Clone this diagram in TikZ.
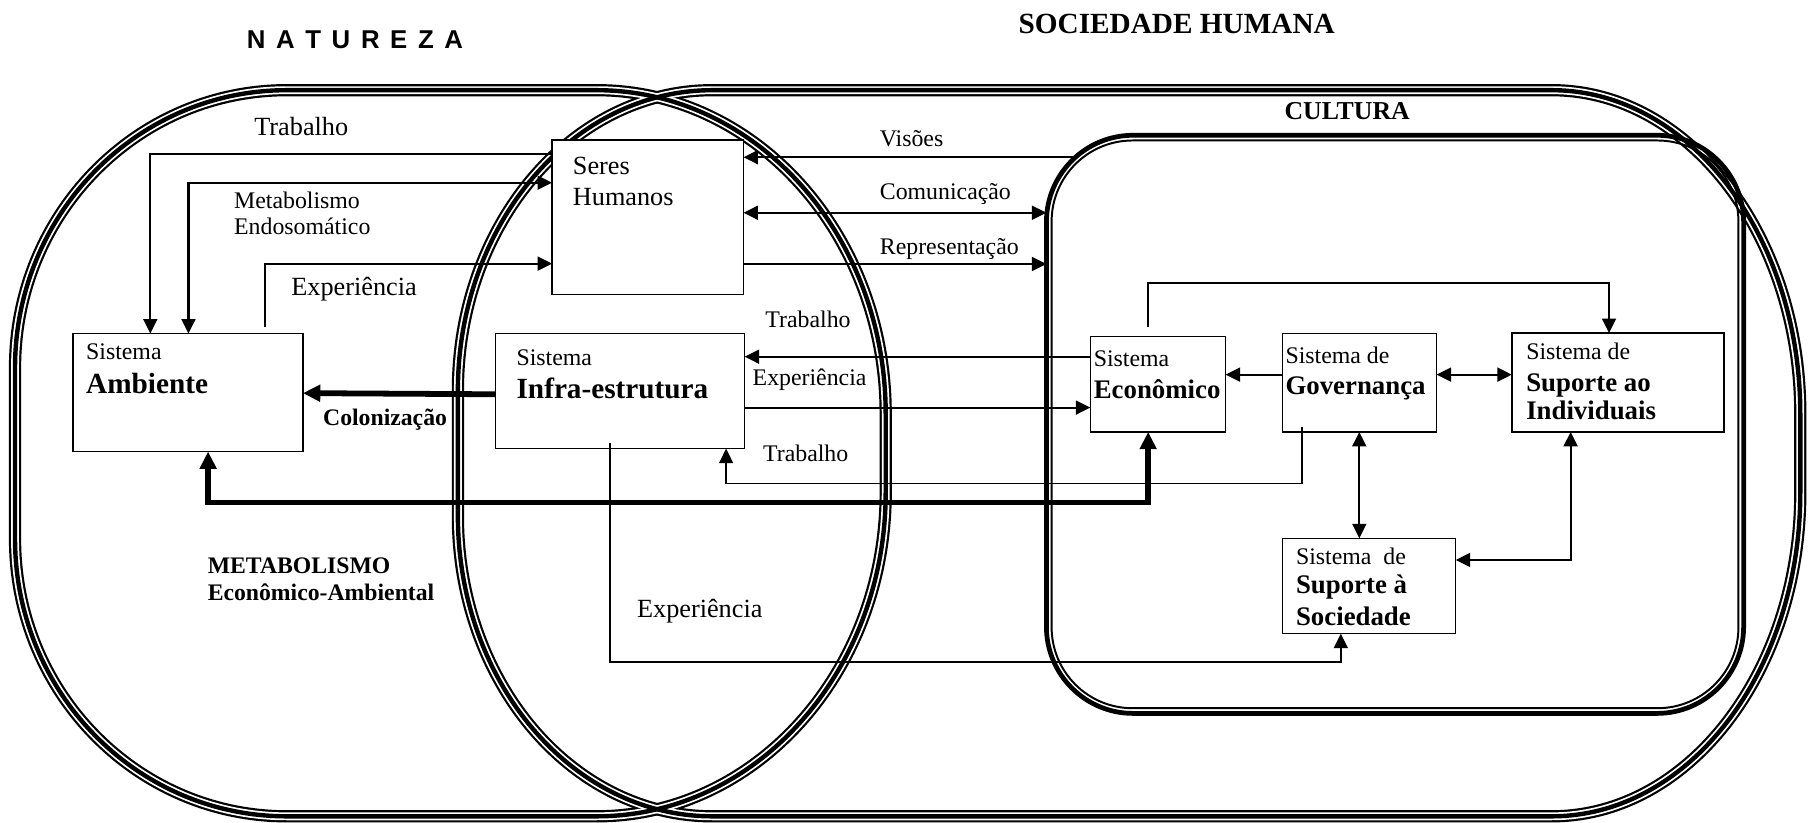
\documentclass[tikz,border=0pt]{standalone}
\usepackage{fontspec}
\setmainfont{Liberation Serif}
\newfontfamily\natfont{Liberation Sans}
\usetikzlibrary{arrows.meta}

% closed path: rectangle whose four corners are quarter ellipses
% #1 left, #2 top, #3 right, #4 bottom, #5/#6 left corner radii, #7/#8 right corner radii
\newcommand\racetrack[8]{%
  ({#1},{#2+#6}) .. controls ({#1},{#2+0.4477*#6}) and ({#1+0.4477*#5},{#2}) .. ({#1+#5},{#2})
  -- ({#3-#7},{#2}) .. controls ({#3-0.4477*#7},{#2}) and ({#3},{#2+0.4477*#8}) .. ({#3},{#2+#8})
  -- ({#3},{#4-#8}) .. controls ({#3},{#4-0.4477*#8}) and ({#3-0.4477*#7},{#4}) .. ({#3-#7},{#4})
  -- ({#1+#5},{#4}) .. controls ({#1+0.4477*#5},{#4}) and ({#1},{#4-0.4477*#6}) .. ({#1},{#4-#6})
  -- cycle}

\begin{document}
\begin{tikzpicture}[x=1pt,y=-1pt,
  box/.style={draw, line width=1.3pt, fill=white, inner sep=0pt, outer sep=0pt},
  conn/.style={line width=1.8pt},
  thinconn/.style={line width=1.3pt},
  heavy/.style={line width=5pt},
  hd/.tip={Triangle[length=12.5pt,width=12pt]},
  bighd/.tip={Triangle[length=15pt,width=14pt]},
  txt/.style={inner sep=0pt, outer sep=0pt, anchor=base west},
  fs/.style={txt, font=\fontsize{20.6}{24}\selectfont},
  fm/.style={txt, font=\fontsize{22.7}{26}\selectfont},
  fsb/.style={txt, font=\bfseries\fontsize{20.5}{24}\selectfont},
  fmb/.style={txt, font=\bfseries\fontsize{23.2}{27}\selectfont},
  flb/.style={txt, font=\bfseries\fontsize{25.3}{29}\selectfont}
]
\useasboundingbox (0,0) rectangle (1568,711);

% the two overlapping triple-lined domains
\foreach \w/\c in {10.6/black, 6.8/white, 3.8/black} {
  \draw[line width=\w pt, \c] \racetrack{13}{78}{766}{706}{235}{240}{250}{280};
  \draw[line width=\w pt, \c] \racetrack{396}{78}{1557}{706}{220}{260}{215}{280};
}

% culture domain: heavy outer line with a thin inner line
\node[draw, line width=4.1pt, rounded corners=75pt, inner sep=0pt, outer sep=0pt,
      minimum width=603pt, minimum height=500pt] (cultura) at (1206.5,367) {};
\draw[line width=1.7pt, rounded corners=70pt]
  ([shift={(4.5,4.5)}]cultura.north west) rectangle ([shift={(-4.5,-4.5)}]cultura.south east);

% titles
\node[txt, font=\natfont\bfseries\fontsize{22.3}{26}\selectfont] (natureza) at (213.5,41.8)
  {N\hspace{9.2pt}A\hspace{9.2pt}T\hspace{9.2pt}U\hspace{9.2pt}R\hspace{9.2pt}E\hspace{9.2pt}Z\hspace{9.2pt}A};
\node[flb] (sociedade) at (881,28.8) {SOCIEDADE HUMANA};
\node[txt, font=\bfseries\fontsize{22.3}{26}\selectfont] (culturaT) at (1111,103.2) {CULTURA};

% systems
\node[box, minimum width=199pt, minimum height=102pt] (amb) at (162.5,339.5) {};
\node[box, minimum width=165.5pt, minimum height=133.5pt] (seres) at (560.25,187.75) {};
\node[box, minimum width=215.5pt, minimum height=99.5pt] (infra) at (536.25,338.25) {};
\node[box, minimum width=117pt, minimum height=82.5pt] (econ) at (1001.5,332.25) {};
\node[box, minimum width=133.5pt, minimum height=85pt] (gov) at (1175.75,331) {};
\node[box, minimum width=183.5pt, minimum height=85.5pt] (ind) at (1399.25,330.75) {};
\node[box, minimum width=150pt, minimum height=82.4pt] (soc) at (1184,506.8) {};

% connectors
\draw[conn,-{hd}] (seres.west |- 0,133) -| (amb.north -| 130,0);
\draw[conn,{hd}-{hd}] (amb.north -| 163,0) |- (seres.west |- 0,158);
\coordinate (expS) at (229.5,282.5);
\draw[conn,-{hd}] (expS) |- (seres.west |- 0,228);
\coordinate (visS) at (931,136);
\draw[conn,-{hd}] (visS) -- (seres.east |- visS);
\draw[conn,{hd}-{hd}] (seres.east |- 0,184) -- (cultura.west |- 0,184);
\draw[conn,-{hd}] (seres.east |- 0,228.3) -- (cultura.west |- 0,228.3);
\draw[conn,-{hd}] (econ.west |- 0,308.5) -- (infra.east |- 0,308.5);
\draw[conn,-{hd}] (infra.east |- 0,352.5) -- (econ.west |- 0,352.5);
\coordinate (govT) at (1126,369);
\draw[thinconn,-{hd}] (govT) -- (govT |- 0,418) -| (infra.south -| 628,0);
\draw[heavy,-{bighd}] (infra.west |- 0,341) -- (amb.east |- 0,340);
\draw[heavy,{bighd}-{bighd}] (amb.south -| 180,0) -- (180,434.5) -| (econ.south -| 993,0);
\coordinate (infB) at (527.6,383);
\draw[thinconn,-{hd}] (infB) -- (infB |- 0,572.5) -| (soc.south -| 1159.6,0);
\coordinate (ecoT) at (993,282.5);
\draw[conn,-{hd}] (ecoT) -- (ecoT |- 0,244.5) -| (ind.north -| 1391.6,0);
\draw[conn,-{hd}] (gov.west |- 0,324) -- (econ.east |- 0,324);
\draw[conn,{hd}-{hd}] (gov.east |- 0,324) -- (ind.west |- 0,324);
\draw[conn,{hd}-{hd}] (gov.south -| 1175.6,0) -- (soc.north -| 1175.6,0);
\draw[conn,{hd}-{hd}] (ind.south -| 1358.4,0) |- (soc.east |- 0,484.3);

% connector labels
\node[fm] (lTrab1) at (220,117.6) {Trabalho};
\node[fs] (lMet1) at (202.5,180) {Metabolismo};
\node[fs] (lMet2) at (202.5,203) {Endosomático};
\node[fm] (lExp1) at (252,256) {Experiência};
\node[fs] (lVis) at (761,126.8) {Visões};
\node[fs] (lCom) at (761,172.4) {Comunicação};
\node[fs] (lRep) at (761,219.7) {Representação};
\node[fs] (lTrab2) at (662,283) {Trabalho};
\node[fs] (lExp2) at (651,333.8) {Experiência};
\node[fs] (lTrab3) at (660,399.3) {Trabalho};
\node[fsb] (lCol) at (279.5,367.6) {Colonização};
\node[fsb] (lMeta) at (179.7,496.4) {METABOLISMO};
\node[fsb] (lMetb) at (179.7,519) {Econômico-Ambiental};
\node[fm] (lExp3) at (551,534) {Experiência};

% texts of the systems
\node[fs] (ambA) at (74.5,311) {Sistema};
\node[flb] (ambB) at (74.5,340) {Ambiente};
\node[fm] (serA) at (495.5,151.3) {Seres};
\node[fm] (serB) at (495.5,177.3) {Humanos};
\node[fs] (infA) at (446.8,316.2) {Sistema};
\node[flb] (infB2) at (446.8,345) {Infra-estrutura};
\node[fs] (ecoA) at (946,317) {Sistema};
\node[fmb] (ecoB) at (946,344.5) {Econômico};
\node[fs] (govA) at (1111.8,314) {Sistema de};
\node[fmb] (govB) at (1111.8,341.6) {Governança};
\node[fs] (indA) at (1320,311.3) {Sistema de};
\node[fmb] (indB) at (1320,338.7) {Suporte ao};
\node[fmb] (indC) at (1320,363) {Individuais};
\node[fs] (socA) at (1120.9,487.8) {Sistema\ \ de};
\node[fmb] (socB) at (1120.9,513) {Suporte à};
\node[fmb] (socC) at (1120.9,540.6) {Sociedade};
\end{tikzpicture}
\end{document}
